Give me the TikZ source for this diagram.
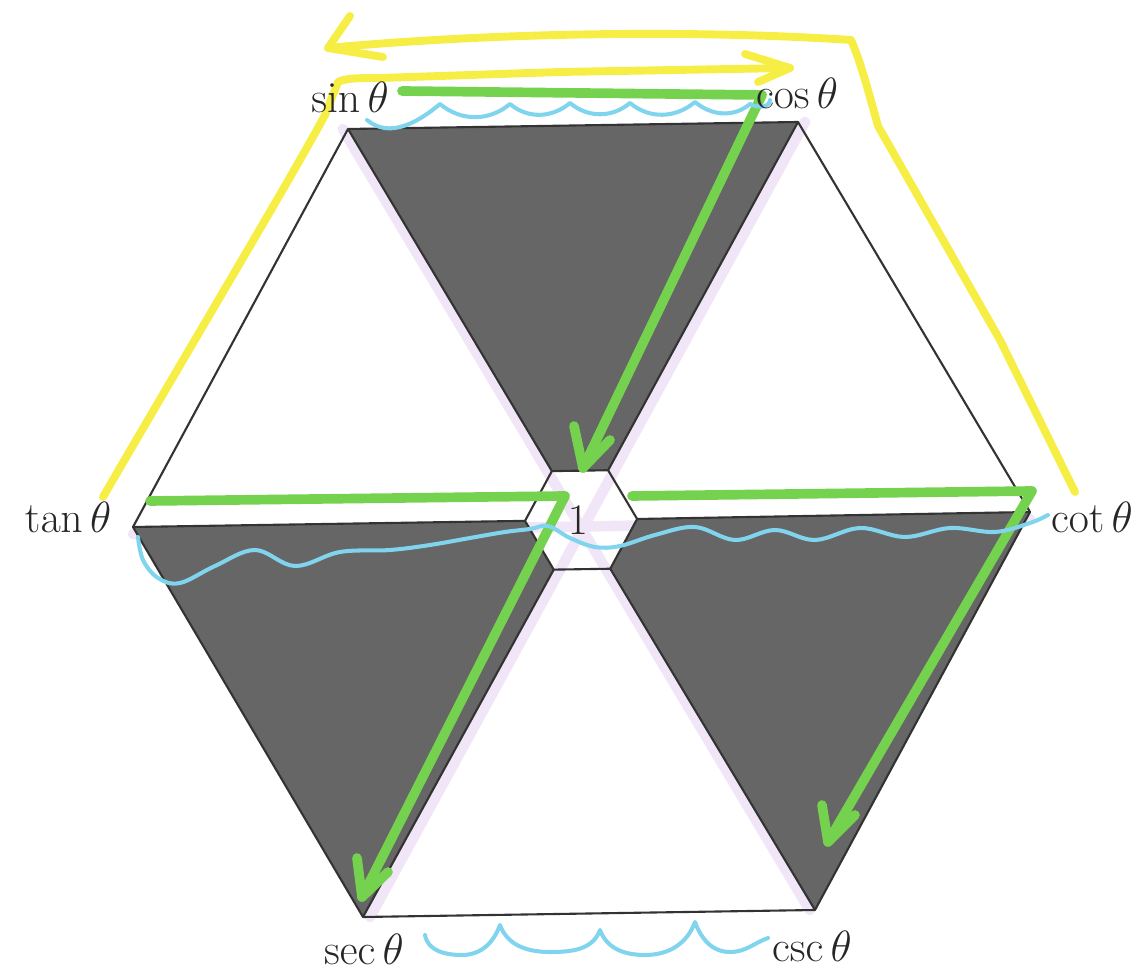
\documentclass[tikz,border=0pt]{standalone}
\usetikzlibrary{calc}
\definecolor{yhl}{HTML}{F7EE45}
\definecolor{ghl}{HTML}{74D24E}
\definecolor{chl}{HTML}{80D4EE}
\definecolor{lhl}{HTML}{F1E6F7}
\begin{document}
\begin{tikzpicture}[x=0.02cm,y=-0.02cm,
  edge/.style={draw=black!80,line width=1.2pt,line join=round},
  dark/.style={fill=black!60},
  lbl/.style={font=\fontsize{29}{34}\selectfont,inner sep=0pt,text=black!85},
  yel/.style={draw=yhl,line width=4.5pt,line cap=round,line join=round},
  grn/.style={draw=ghl,line width=5.5pt,line cap=round,line join=round},
  cyn/.style={draw=chl,line width=2.3pt,line cap=round,line join=round},
  lav/.style={draw=lhl,line width=6pt,line cap=round}]
\useasboundingbox (0,0) rectangle (1147,972);
% outer vertices
\coordinate (S) at (348,129);
\coordinate (C) at (798,122);
\coordinate (T) at (1030,512);
\coordinate (K) at (815,910);
\coordinate (E) at (363,917);
\coordinate (N) at (133,527);
\coordinate (O) at (581,520);
% inner vertices
\coordinate (si) at ($(O)!0.125!(S)$);
\coordinate (ci) at ($(O)!0.125!(C)$);
\coordinate (ti) at ($(O)!0.125!(T)$);
\coordinate (ki) at ($(O)!0.125!(K)$);
\coordinate (ei) at ($(O)!0.125!(E)$);
\coordinate (ni) at ($(O)!0.125!(N)$);
% lavender highlights along the diagonals
\draw[lav] ([xshift=-3]S) -- ([xshift=-3]K);
\draw[lav] ([xshift=4]C) -- ([xshift=4]E);
\draw[lav] ([yshift=-4]N) -- ([yshift=-4]T);
% shaded trapezoids
\fill[dark] (S) -- (C) -- (ci) -- (si) -- cycle;
\fill[dark] (N) -- (ni) -- (ei) -- (E) -- cycle;
\fill[dark] (T) -- (K) -- (ki) -- (ti) -- cycle;
% outlines
\draw[edge] (S) -- (C) -- (T) -- (K) -- (E) -- (N) -- cycle;
\draw[edge] (si) -- (ci) -- (ti) -- (ki) -- (ei) -- (ni) -- cycle;
\foreach \a/\b in {S/si,C/ci,T/ti,K/ki,E/ei,N/ni} \draw[edge] (\a) -- (\b);
% yellow arrows
\draw[yel] (103,497) .. controls (200,330) and (290,180) .. (325,115) -- (338,82)
  .. controls (345,78) and (360,78) .. (380,78) -- (560,72) -- (790,68);
\draw[yel] (745,54) -- (790,68) -- (758,82);
\draw[yel] (1075,492) -- (1000,340) -- (878,126) .. controls (868,90) and (860,60) .. (851,40)
  .. controls (700,30) and (500,32) .. (328,48);
\draw[yel] (350,16) -- (328,48) -- (383,57);
% green arrows
\draw[grn] (402,91) -- (762,95) -- (583,468);
\draw[grn] (574,426) -- (583,468) -- (610,440);
\draw[grn] (150,501) -- (565,496) -- (362,897);
\draw[grn] (357,858) -- (362,897) -- (388,872);
\draw[grn] (632,496) -- (1032,491) -- (828,842);
\draw[grn] (822,805) -- (828,842) -- (855,815);
% cyan waves
\draw[cyn] (367,120) to[out=-40,in=-140] (440,104) to[out=-40,in=-140] (510,104)
  to[out=-40,in=-140] (570,103) to[out=-40,in=-140] (630,103) to[out=-40,in=-140] (695,102)
  to[out=-40,in=-140] (750,104) to[out=-30,in=-90] (770,100);
\draw[cyn] (425,935) to[out=-80,in=180] (462,955) to[out=0,in=-110] (500,925)
  to[out=-70,in=180] (550,952) to[out=0,in=-110] (600,930)
  to[out=-70,in=180] (645,955) to[out=0,in=-110] (695,922)
  to[out=-70,in=180] (730,952) to[out=0,in=-160] (768,938);
\draw[cyn] plot[smooth,tension=0.6] coordinates {(138,537) (143,560) (158,578) (180,583) (215,566)
  (255,550) (295,566) (340,552) (390,550) (430,545) (470,538) (505,532) (530,529) (548,526)
  (570,538) (595,547) (620,546) (655,535) (695,527) (735,540) (775,530) (815,540) (860,528)
  (905,537) (950,528) (995,532) (1030,523) (1048,515)};
% labels
\node[lbl] (lsin) at (350,97) {$\sin\theta$};
\node[lbl] (lcos) at (797,93) {$\cos\theta$};
\node[lbl] (lcot) at (1092,517) {$\cot\theta$};
\node[lbl] (lcsc) at (812,946) {$\csc\theta$};
\node[lbl] (lsec) at (364,949) {$\sec\theta$};
\node[lbl] (ltan) at (68,517) {$\tan\theta$};
\node[lbl] (lone) at (578,520) {$1$};
\end{tikzpicture}
\end{document}
